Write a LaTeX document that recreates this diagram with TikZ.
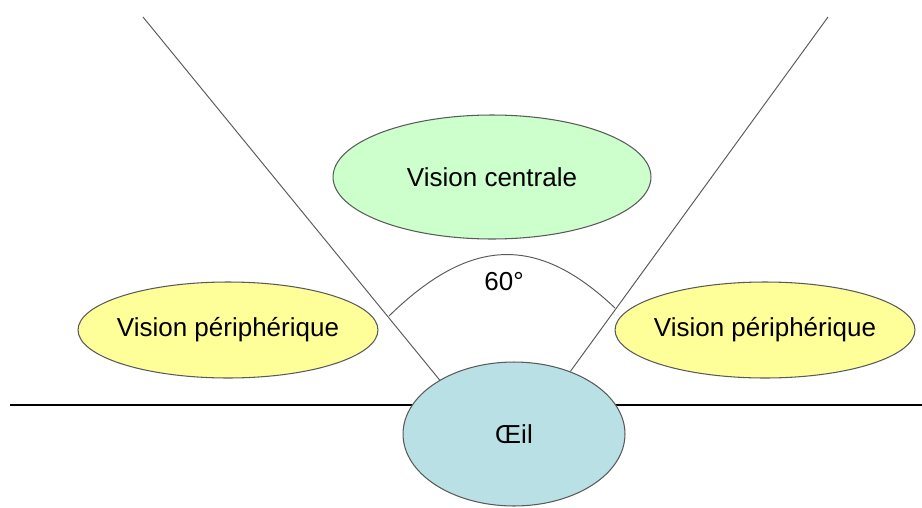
\documentclass[tikz,border=0pt]{standalone}
\usepackage{fontspec}
\setmainfont{Liberation Sans}
\usetikzlibrary{shapes.geometric, backgrounds}
\definecolor{cgreen}{HTML}{CCFFCC}
\definecolor{cyellow}{HTML}{FFFF99}
\definecolor{cblue}{HTML}{B9E0E4}
\definecolor{cgrey}{HTML}{5A5A5A}
\tikzset{
  every picture/.style={font=\fontsize{14.8}{17}\selectfont, line width=0.6pt},
  zone/.style={ellipse, draw=cgrey, fill=#1, inner sep=0pt},
  zone/.default=cyellow,
  side/.style={zone, inner xsep=-4pt, minimum width=6.0cm, minimum height=1.92cm},
  ray/.style={draw=cgrey, line width=0.55pt},
  ground/.style={draw=black, line width=0.6pt},
}

\begin{document}
\begin{tikzpicture}[x=0.02cm, y=-0.02cm]
  \useasboundingbox (0,0) rectangle (922,507);

  % ---- zones
  \node[zone=cgreen, minimum width=6.36cm, minimum height=2.48cm] (centre) at (492,177) {Vision centrale};
  \node[side] (perig) at (228,330) {Vision périphérique};
  \node[side] (perid) at (765,330) {Vision périphérique};
  \node[zone=cblue, minimum width=4.44cm, minimum height=2.88cm] (oeil) at (514,434) {Œil};

  % ---- free ends
  \coordinate (hg) at (143,17);
  \coordinate (hd) at (828,17);
  \coordinate (sg) at (10,405);
  \coordinate (sd) at (922,405);
  \coordinate (ag) at (389,316);
  \coordinate (ad) at (615,308);

  \begin{scope}[on background layer]
    \draw[ground] (sg) -- (sd);
  \end{scope}

  % ---- field of view
  \draw[ray] (oeil.144) -- (hg);
  \draw[ray] (oeil.48) -- (hd);
  \draw[ray] (ag) .. controls (470,237) and (537,234) .. (ad);
  \node (angle) at (504,282) {60°};
\end{tikzpicture}
\end{document}
